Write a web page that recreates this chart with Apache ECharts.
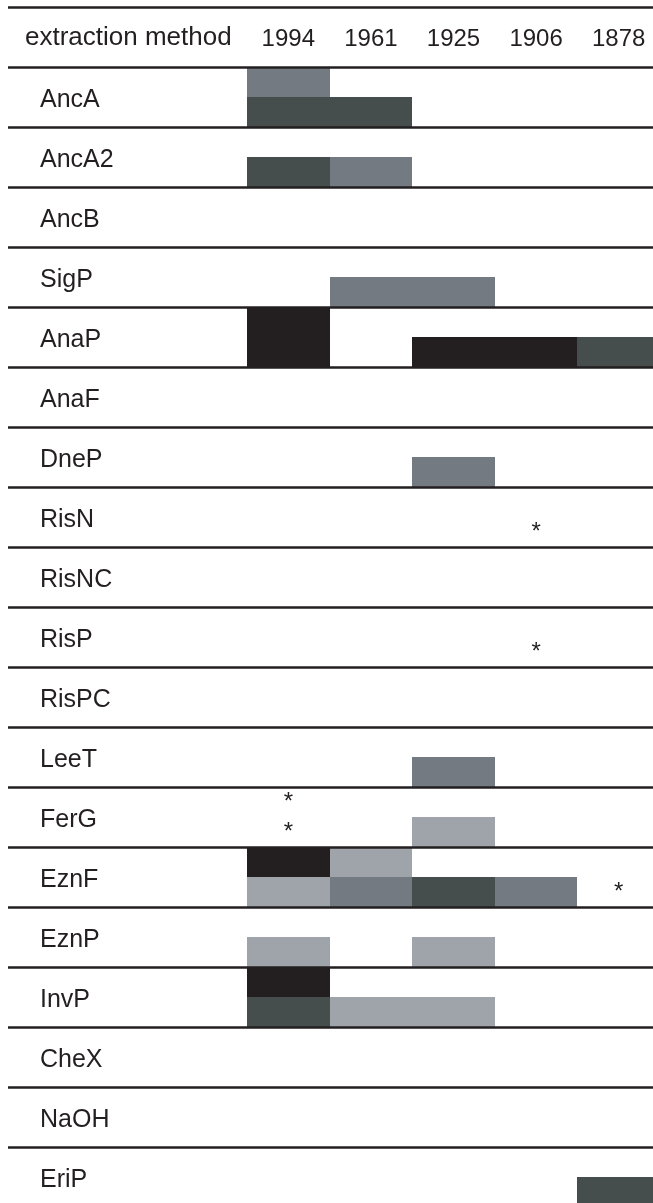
<!DOCTYPE html>
<html>
<head>
<meta charset="utf-8">
<script src="https://cdn.jsdelivr.net/npm/echarts@6/dist/echarts.min.js"></script>
<style>
  html, body { margin: 0; padding: 0; background: #ffffff; }
  #chart { width: 653px; height: 1203px; }
</style>
</head>
<body>
<div id="chart"></div>
<script>
// ---- data ----
const headerLabel = 'extraction method';
const methods = ['AncA', 'AncA2', 'AncB', 'SigP', 'AnaP', 'AnaF', 'DneP', 'RisN', 'RisNC',
  'RisP', 'RisPC', 'LeeT', 'FerG', 'EznF', 'EznP', 'InvP', 'CheX', 'NaOH', 'EriP'];
const years = ['1994', '1961', '1925', '1906', '1878'];
const halves = ['top', 'bottom'];
// shade levels: 1 = light grey, 2 = mid grey, 3 = dark grey, 4 = black
const levels = [1, 2, 3, 4];
// [method, year, level] in the upper half of a row
const topCells = [
  ['AncA', '1994', 2],
  ['AnaP', '1994', 4],
  ['EznF', '1994', 4],
  ['EznF', '1961', 1],
  ['InvP', '1994', 4]
];
// [method, year, level] in the lower half of a row
const bottomCells = [
  ['AncA', '1994', 3], ['AncA', '1961', 3],
  ['AncA2', '1994', 3], ['AncA2', '1961', 2],
  ['SigP', '1961', 2], ['SigP', '1925', 2],
  ['AnaP', '1994', 4], ['AnaP', '1925', 4], ['AnaP', '1906', 4], ['AnaP', '1878', 3],
  ['DneP', '1925', 2],
  ['LeeT', '1925', 2],
  ['FerG', '1925', 1],
  ['EznF', '1994', 1], ['EznF', '1961', 2], ['EznF', '1925', 3], ['EznF', '1906', 2],
  ['EznP', '1994', 1], ['EznP', '1925', 1],
  ['InvP', '1994', 3], ['InvP', '1961', 1], ['InvP', '1925', 1],
  ['EriP', '1878', 3]
];
// [method, year, half] marked with an asterisk
const asterisks = [
  ['RisN', '1906', 'bottom'],
  ['RisP', '1906', 'bottom'],
  ['FerG', '1994', 'top'],
  ['FerG', '1994', 'bottom'],
  ['EznF', '1878', 'bottom']
];

// ---- styles / layout ----
const levelColors = ['#9ea4aa', '#737a81', '#464e4d', '#231f20'];
const ink = '#231f20';
const font = "'Liberation Sans', Arial, Helvetica, sans-serif";
const W = 653, H = 1203;
const TOP = 7, ROW_PX = 60, LEFT = 8, CELL_LEFT = 247, COL_PX = 82.6;
const yMax = (H - TOP) / ROW_PX;            // rows visible (header row = 0)
const xMax = (W - CELL_LEFT) / COL_PX;      // columns visible

// ---- build ----
const rowNames = [headerLabel].concat(methods);
// y in row units: header row is 0..1, method i occupies i+1..i+2
const halfY = (m, h) => methods.indexOf(m) + 1 + halves.indexOf(h) * 0.5;
const cellData = topCells.map(([m, y, l]) => [years.indexOf(y), halfY(m, 'top'), l])
  .concat(bottomCells.map(([m, y, l]) => [years.indexOf(y), halfY(m, 'bottom'), l]));
const starData = asterisks.map(([m, y, h]) => [years.indexOf(y) + 0.5, halfY(m, h) + 0.25]);

const isCentre = v => Number.isInteger(v - 0.5) && v > 0;

const chart = echarts.init(document.getElementById('chart'), null, { renderer: 'canvas' });
chart.setOption({
  animation: false,
  backgroundColor: '#ffffff',
  textStyle: { fontFamily: font },
  grid: [
    { left: LEFT, top: TOP, right: 0, bottom: 0, outerBoundsMode: 'none', containLabel: false },
    { left: CELL_LEFT, top: TOP, right: 0, bottom: 0, outerBoundsMode: 'none', containLabel: false }
  ],
  xAxis: [
    { gridIndex: 0, type: 'value', show: false, min: 0, max: 1 },
    {
      gridIndex: 1, type: 'value', position: 'top', min: 0, max: xMax, interval: 0.5,
      axisLine: { show: false }, axisTick: { show: false }, splitLine: { show: false },
      axisLabel: {
        inside: true, margin: 32, verticalAlign: 'middle', fontSize: 24,
        color: ink, fontFamily: font, showMinLabel: false, showMaxLabel: false,
        formatter: v => isCentre(v) ? (years[v - 0.5] || '') : ''
      }
    }
  ],
  yAxis: [
    {
      gridIndex: 0, type: 'value', position: 'left', min: 0, max: yMax, interval: 1, inverse: true,
      z: 5,
      axisLine: { show: false }, axisTick: { show: false }, axisLabel: { show: false },
      splitLine: { show: true, showMinLine: true, showMaxLine: false,
        lineStyle: { color: ink, width: 2.5 } }
    },
    {
      gridIndex: 0, type: 'value', position: 'left', offset: 0,
      min: 0, max: yMax, interval: 0.5, inverse: true,
      axisLine: { show: false }, axisTick: { show: false }, splitLine: { show: false },
      axisLabel: {
        inside: true, margin: 17, align: 'left', verticalAlign: 'middle',
        color: ink, fontFamily: font, showMinLabel: false, showMaxLabel: false,
        formatter: v => {
          if (!isCentre(v)) return '';
          const r = v - 0.5;
          if (r >= rowNames.length) return '';
          return r === 0 ? '{h|' + rowNames[r] + '}' : '{r|' + rowNames[r] + '}';
        },
        rich: {
          h: { fontSize: 26, color: ink, fontFamily: font, padding: [2, 0, 0, 0] },
          r: { fontSize: 25, color: ink, fontFamily: font, padding: [6, 0, 0, 15] }
        }
      }
    },
    {
      gridIndex: 1, type: 'value', min: 0, max: yMax, inverse: true, show: false
    }
  ],
  series: [
    {
      type: 'custom', xAxisIndex: 1, yAxisIndex: 2, data: cellData,
      encode: { x: 0, y: 1 },
      renderItem: (params, api) => {
        const c = api.value(0), r = api.value(1), lvl = api.value(2);
        const p0 = api.coord([c, r]).map(Math.round);
        const p1 = api.coord([c + 1, r + 0.5]).map(Math.round);
        return {
          type: 'rect',
          shape: { x: p0[0], y: p0[1], width: p1[0] - p0[0], height: p1[1] - p0[1] },
          style: { fill: levelColors[levels.indexOf(lvl)] }
        };
      },
      emphasis: { disabled: true }
    },
    {
      type: 'custom', xAxisIndex: 1, yAxisIndex: 2, data: starData,
      encode: { x: 0, y: 1 },
      renderItem: (params, api) => {
        const p = api.coord([api.value(0), api.value(1)]);
        return {
          type: 'text',
          x: p[0], y: p[1],
          style: { text: '*', fill: ink, fontSize: 24, fontFamily: font,
            align: 'center', verticalAlign: 'middle' }
        };
      },
      emphasis: { disabled: true }
    }
  ]
});
</script>
</body>
</html>
